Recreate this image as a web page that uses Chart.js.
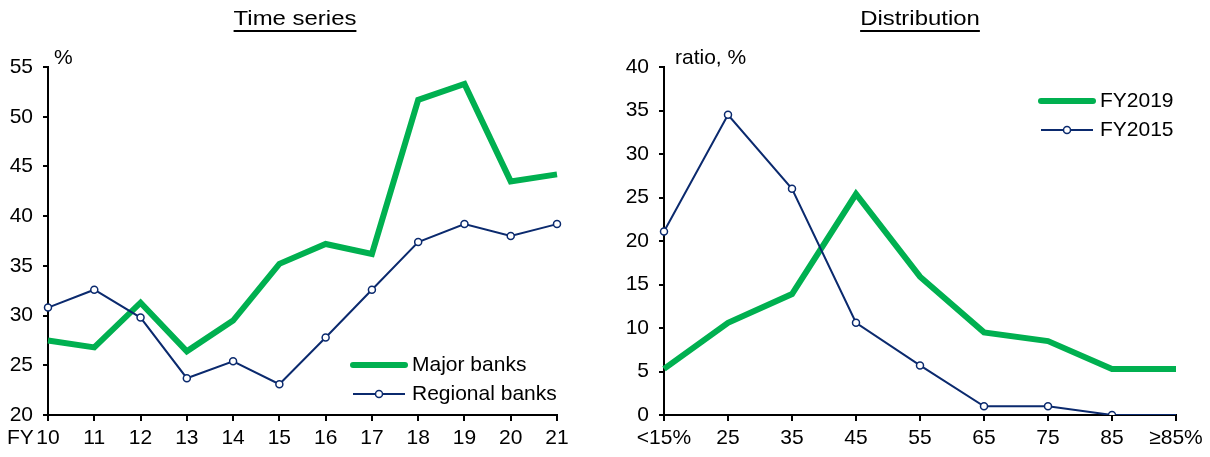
<!DOCTYPE html>
<html>
<head>
<meta charset="utf-8">
<script src="https://cdn.jsdelivr.net/npm/chart.js@4.4.1/dist/chart.umd.min.js"></script>
<style>
    body { margin: 0; background: #fff; }
    #wrap { position: relative; width: 1210px; height: 457px; }
    canvas { position: absolute; top: 0; }
    #leftChart { left: 0; }
    #rightChart { left: 605px; }
</style>
</head>
<body>
<div id="wrap">
    <canvas id="leftChart" width="605" height="457"></canvas>
    <canvas id="rightChart" width="605" height="457"></canvas>
</div>
<script>
// Time series (left)
const fiscalYears = ['10', '11', '12', '13', '14', '15', '16', '17', '18', '19', '20', '21'];
const majorBanks = [27.5, 26.8, 31.3, 26.4, 29.5, 35.2, 37.2, 36.2, 51.7, 53.3, 43.5, 44.2];
const regionalBanks = [30.8, 32.6, 29.8, 23.7, 25.4, 23.1, 27.8, 32.6, 37.4, 39.2, 38.0, 39.2];

// Distribution (right)
const ratioBins = ['<15%', '25', '35', '45', '55', '65', '75', '85', '≥85%'];
const fy2019 = [5.3, 10.6, 13.9, 25.4, 15.9, 9.5, 8.5, 5.3, 5.3];
const fy2015 = [21.1, 34.5, 26.0, 10.6, 5.7, 1.0, 1.0, 0.0, 0.0];

const GREEN = '#00b050';
const NAVY = '#0b2a6e';
const FONT = 'Liberation Sans, Arial, sans-serif';

Chart.defaults.font.family = FONT;
Chart.defaults.color = '#000';

function axisX(labels) {
    return {
        type: 'category',
        labels: labels,
        offset: false,
        grid: { drawOnChartArea: false, drawTicks: true, tickLength: 6, color: '#000', lineWidth: 2 },
        border: { display: true, color: '#000', width: 2 },
        ticks: { font: { size: 21 }, color: '#000', padding: 5, maxRotation: 0, autoSkip: false },
        afterFit: (scale) => { scale.height = 42; }
    };
}

function axisY(min, max, width) {
    return {
        min: min,
        max: max,
        grid: { drawOnChartArea: false, drawTicks: true, tickLength: 5, color: '#000', lineWidth: 2 },
        border: { display: true, color: '#000', width: 2 },
        ticks: { stepSize: 5, font: { size: 21 }, color: '#000', padding: 10 },
        afterFit: (scale) => { scale.width = width; }
    };
}

// titles, unit labels and legend drawn straight on the canvas
function decorations(opts) {
    return {
        id: 'decorations',
        afterDraw(chart) {
            const ctx = chart.ctx;
            ctx.save();
            ctx.fillStyle = '#000';
            ctx.textBaseline = 'middle';

            // underlined title, a bit wider than the plain font like in the original
            ctx.font = '21px ' + FONT;
            const w = ctx.measureText(opts.title).width * 1.14;
            ctx.save();
            ctx.translate(opts.titleX - w / 2, 19);
            ctx.scale(1.14, 1);
            ctx.textAlign = 'left';
            ctx.fillText(opts.title, 0, 0);
            ctx.restore();
            ctx.fillRect(opts.titleX - w / 2, 30, w, 2);

            // unit label
            ctx.textAlign = 'left';
            ctx.fillText(opts.unit, opts.unitX, 58);

            if (opts.fy) ctx.fillText('FY', 7, 438);

            // legend
            const lx = opts.legendX, ly = opts.legendY;
            ctx.lineCap = 'round';
            ctx.strokeStyle = GREEN;
            ctx.lineWidth = 6;
            ctx.beginPath();
            ctx.moveTo(lx, ly);
            ctx.lineTo(lx + 52, ly);
            ctx.stroke();

            ctx.lineCap = 'butt';
            ctx.strokeStyle = NAVY;
            ctx.lineWidth = 2;
            ctx.beginPath();
            ctx.moveTo(lx, ly + 29);
            ctx.lineTo(lx + 52, ly + 29);
            ctx.stroke();
            ctx.fillStyle = '#fff';
            ctx.lineWidth = 1.5;
            ctx.beginPath();
            ctx.arc(lx + 26, ly + 29, 3.5, 0, Math.PI * 2);
            ctx.fill();
            ctx.stroke();

            ctx.fillStyle = '#000';
            ctx.fillText(opts.names[0], lx + 59, ly);
            ctx.fillText(opts.names[1], lx + 59, ly + 29);
            ctx.restore();
        }
    };
}

function makeChart(id, labels, thick, thin, yMin, yMax, yWidth, padRight, deco, hideLast) {
    const radii = thin.map((v, i) => (hideLast && i === thin.length - 1) ? 0 : 3.5);
    return new Chart(document.getElementById(id), {
        type: 'line',
        data: {
            labels: labels,
            datasets: [{
                data: thick,
                borderColor: GREEN,
                borderWidth: 6,
                pointRadius: 0,
                tension: 0,
                order: 2
            }, {
                data: thin,
                borderColor: NAVY,
                borderWidth: 2,
                pointRadius: radii,
                pointBorderWidth: 1.5,
                pointBackgroundColor: '#fff',
                pointBorderColor: NAVY,
                tension: 0,
                order: 1
            }]
        },
        options: {
            responsive: false,
            animation: false,
            layout: { padding: { top: 67, right: padRight, bottom: 0, left: 0 } },
            plugins: { legend: { display: false }, tooltip: { enabled: false } },
            scales: {
                x: axisX(labels),
                y: axisY(yMin, yMax, yWidth)
            }
        },
        plugins: [decorations(deco)]
    });
}

makeChart('leftChart', fiscalYears, majorBanks, regionalBanks, 20, 55, 48, 48, {
    title: 'Time series', titleX: 295, unit: '%', unitX: 54, fy: true,
    legendX: 353, legendY: 365, names: ['Major banks', 'Regional banks']
}, false);

makeChart('rightChart', ratioBins, fy2019, fy2015, 0, 40, 59, 34, {
    title: 'Distribution', titleX: 315, unit: 'ratio, %', unitX: 70, fy: false,
    legendX: 436, legendY: 101, names: ['FY2019', 'FY2015']
}, true);
</script>
</body>
</html>
